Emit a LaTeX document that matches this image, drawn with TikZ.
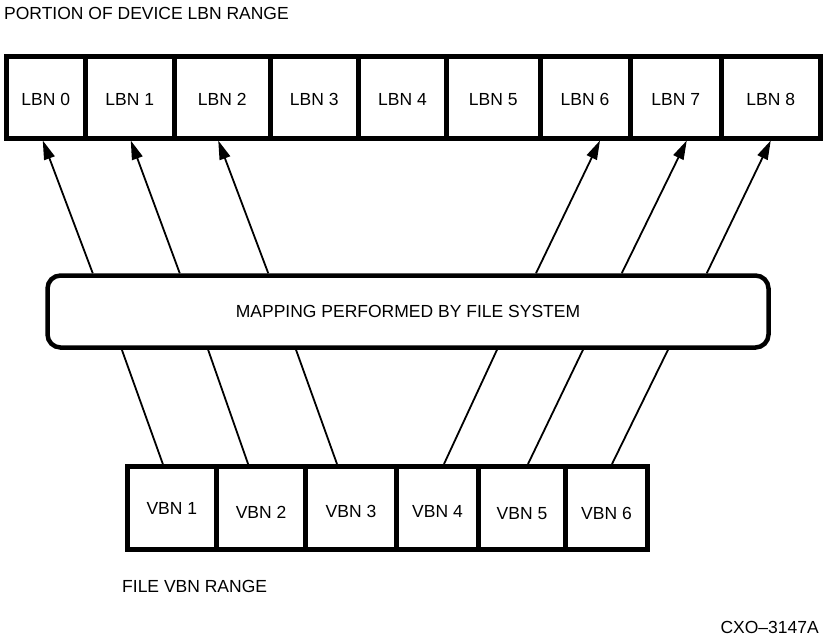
\documentclass[tikz,border=0pt]{standalone}
\usepackage{fontspec}
\setmainfont{Liberation Sans}
\usetikzlibrary{arrows.meta}

\tikzset{
	cellbox/.style={draw, line width=5pt, inner sep=0pt, text depth=0pt},
	lbnbox/.style={cellbox, minimum height=81.5, text height=16.5},
	vbnbox/.style={cellbox, minimum height=83, text height=18.5},
	mapbox/.style={draw, line width=4.5pt, rounded corners=13pt, minimum width=721, minimum height=72},
	arr/.style={-{Triangle[length=19pt,width=11pt]}, line width=1.8pt},
	link/.style={line width=1.8pt}
}

\begin{document}
\begin{tikzpicture}[x=1pt, y=-1pt, font=\fontsize{17.5}{20}\selectfont]
			\useasboundingbox (0,0) rectangle (829,643);
			\node[anchor=west, inner sep=0] (toptitle) at (4,13.5) {PORTION OF DEVICE LBN RANGE};
			% device LBN range
			\node[lbnbox, minimum width=78.5] (lbn0) at (45.75,97.25) {LBN 0};
			\node[lbnbox, minimum width=89.5] (lbn1) at (129.75,97.25) {LBN 1};
			\node[lbnbox, minimum width=95.5] (lbn2) at (222.25,97.25) {LBN 2};
			\node[lbnbox, minimum width=88.5] (lbn3) at (314.25,97.25) {LBN 3};
			\node[lbnbox, minimum width=88] (lbn4) at (402.5,97.25) {LBN 4};
			\node[lbnbox, minimum width=93.5] (lbn5) at (493.25,97.25) {LBN 5};
			\node[lbnbox, minimum width=90] (lbn6) at (585,97.25) {LBN 6};
			\node[lbnbox, minimum width=91.5] (lbn7) at (675.75,97.25) {LBN 7};
			\node[lbnbox, minimum width=98.5] (lbn8) at (770.75,97.25) {LBN 8};
			% file system
			\node[mapbox] (map) at (408,311.5) {MAPPING PERFORMED BY FILE SYSTEM};
			% file VBN range
			\node[vbnbox, minimum width=89.7, text height=12.5] (vbn1) at (171.85,508) {VBN 1};
			\node[vbnbox, minimum width=88.8, text height=20.5] (vbn2) at (261.1,508) {VBN 2};
			\node[vbnbox, minimum width=91] (vbn3) at (351,508) {VBN 3};
			\node[vbnbox, minimum width=82] (vbn4) at (437.5,508) {VBN 4};
			\node[vbnbox, minimum width=87, text height=22.5] (vbn5) at (522,508) {VBN 5};
			\node[vbnbox, minimum width=82, text height=22.5] (vbn6) at (606.5,508) {VBN 6};
			\node[anchor=west, inner sep=0] (bottitle) at (122,586.5) {FILE VBN RANGE};
			\node[anchor=east, inner sep=0] (figid) at (819,627) {CXO--3147A};
			% mapping to LBNs
			\draw[arr] ([xshift=47]lbn0.south |- map.north) -- ([xshift=-3]lbn0.south);
			\draw[arr] ([xshift=50]lbn1.south |- map.north) -- ([xshift=1]lbn1.south);
			\draw[arr] ([xshift=46]lbn2.south |- map.north) -- ([xshift=-4]lbn2.south);
			\draw[arr] ([xshift=-49]lbn6.south |- map.north) -- ([xshift=15]lbn6.south);
			\draw[arr] ([xshift=-54]lbn7.south |- map.north) -- ([xshift=11]lbn7.south);
			\draw[arr] ([xshift=-64]lbn8.south |- map.north) -- (lbn8.south);
			% VBNs into mapping
			\draw[link] ([xshift=-9]vbn1.north) -- ([xshift=-50]vbn1.north |- map.south);
			\draw[link] ([xshift=-13]vbn2.north) -- ([xshift=-53]vbn2.north |- map.south);
			\draw[link] ([xshift=-14]vbn3.north) -- ([xshift=-55]vbn3.north |- map.south);
			\draw[link] ([xshift=6.5]vbn4.north) -- ([xshift=59.5]vbn4.north |- map.south);
			\draw[link] ([xshift=6]vbn5.north) -- ([xshift=61]vbn5.north |- map.south);
			\draw[link] ([xshift=5.5]vbn6.north) -- ([xshift=61.5]vbn6.north |- map.south);
		\end{tikzpicture}
\end{document}
